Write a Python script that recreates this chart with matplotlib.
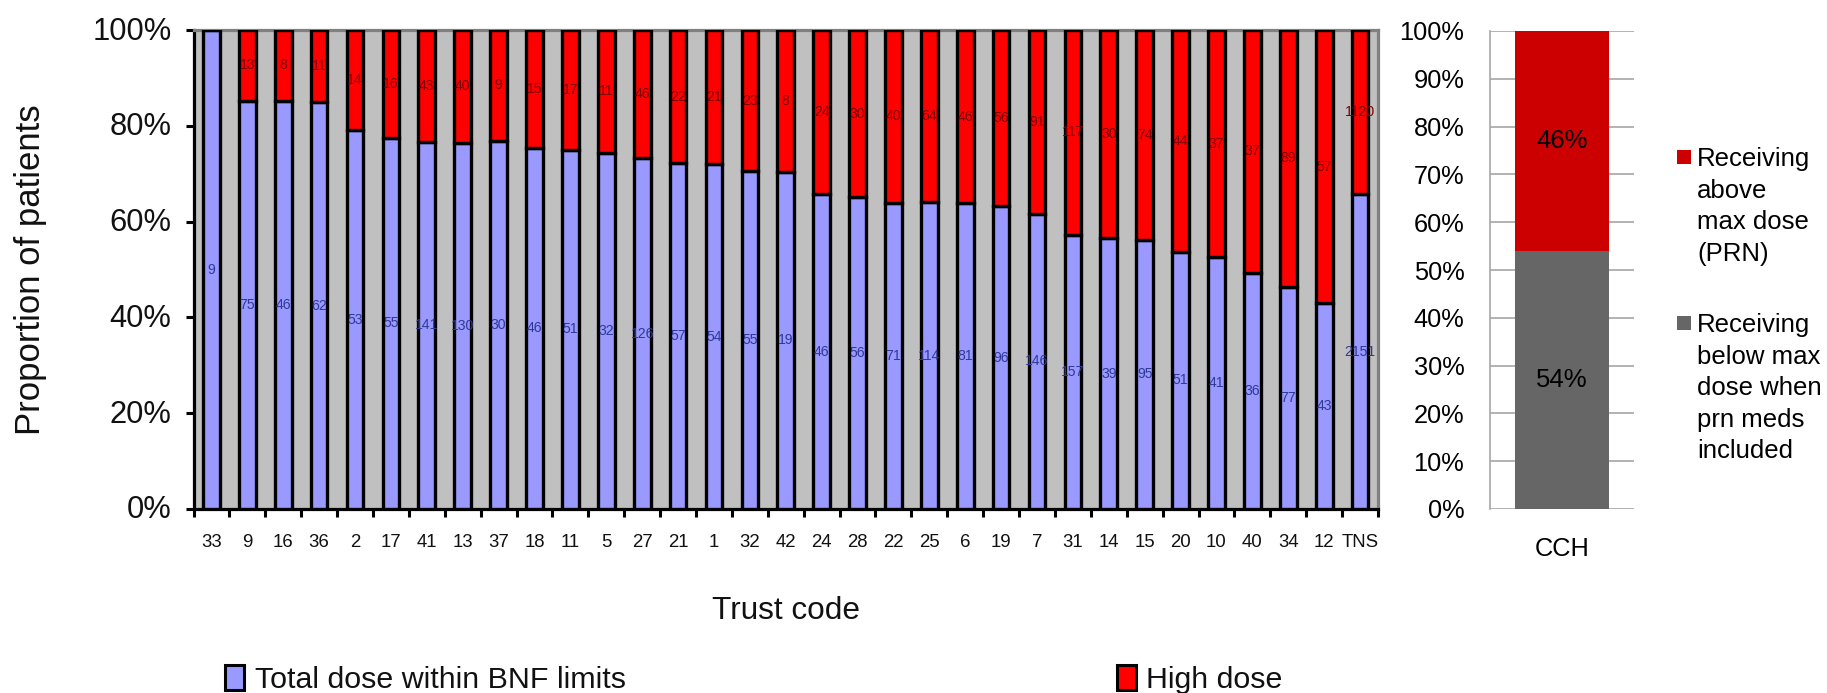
import matplotlib
matplotlib.use("Agg")
import matplotlib.pyplot as plt
import matplotlib.transforms as mtransforms
from matplotlib import font_manager as fm
from matplotlib.patches import Rectangle
import numpy as np

# ---- data -----------------------------------------------------------------
trust_codes = ['33', '9', '16', '36', '2', '17', '41', '13', '37', '18', '11',
               '5', '27', '21', '1', '32', '42', '24', '28', '22', '25', '6',
               '19', '7', '31', '14', '15', '20', '10', '40', '34', '12', 'TNS']
within_bnf = [9, 75, 46, 62, 53, 55, 141, 130, 30, 46, 51,
              32, 126, 57, 54, 55, 19, 46, 56, 71, 114, 81,
              96, 146, 157, 39, 95, 51, 41, 36, 77, 43, 2151]
high_dose = [0, 13, 8, 11, 14, 16, 43, 40, 9, 15, 17,
             11, 46, 22, 21, 23, 8, 24, 30, 40, 64, 46,
             56, 91, 117, 30, 74, 44, 37, 37, 89, 57, 1120]

cch_site = ['CCH']
cch_below_max = [54]
cch_above_max = [46]
y_ticks_main = [0, 20, 40, 60, 80, 100]
y_ticks_cch = [0, 10, 20, 30, 40, 50, 60, 70, 80, 90, 100]


# ---- fonts ----------------------------------------------------------------
def first_available(*names):
    for name in names:
        try:
            fm.findfont(fm.FontProperties(family=name), fallback_to_default=False)
            return name
        except ValueError:
            continue
    return None


narrow = first_available('Liberation Sans Narrow', 'Arial Narrow')
regular = first_available('Liberation Sans', 'Arial') or 'DejaVu Sans'
if narrow is None:
    narrow, nscale = regular, 0.84
else:
    nscale = 1.0

W, H = 1827, 693
fig = plt.figure(figsize=(W / 100, H / 100), dpi=100)
fig.patch.set_facecolor('white')


def fx(px):
    return px / W


def fy(px):
    return 1 - px / H


# ---- main stacked chart ---------------------------------------------------
within = np.array(within_bnf, dtype=float)
high = np.array(high_dose, dtype=float)
total = within + high
pct_within = within / total * 100
pct_high = high / total * 100
n = len(trust_codes)
x = np.arange(n)

ax = fig.add_axes([fx(193.5), fy(509), fx(1378) - fx(193.5), fy(30) - fy(509)])
ax.set_facecolor('#C0C0C0')
ax.bar(x, pct_within, width=0.465, color='#9999FF', edgecolor='black',
       linewidth=2.4, zorder=3)
ax.bar(x, pct_high, bottom=pct_within, width=0.465, color='#FF0000',
       edgecolor='black', linewidth=2.4, zorder=3)
ax.set_xlim(-0.5, n - 0.5)
ax.set_ylim(0, 100)

# counts written in the middle of each segment
for i in range(n):
    ax.text(x[i], pct_within[i] / 2, str(within_bnf[i]), ha='center',
            va='center', fontsize=12 * nscale, family=narrow,
            color='#2E3A95', zorder=4)
    if high_dose[i] > 0:
        ax.text(x[i], pct_within[i] + pct_high[i] / 2, str(high_dose[i]),
                ha='center', va='center', fontsize=12 * nscale,
                family=narrow, color='#7A0000', zorder=4)

for side in ('left', 'bottom'):
    ax.spines[side].set_color('black')
    ax.spines[side].set_linewidth(2.3)
for side in ('top', 'right'):
    ax.spines[side].set_color('#808080')
    ax.spines[side].set_linewidth(2.3)
for sp in ax.spines.values():
    sp.set_zorder(2.5)

ax.set_xticks(x)
ax.set_xticklabels(trust_codes, family=narrow, fontsize=16 * nscale,
                   color='#111111')
ax.set_xticks(np.arange(n + 1) - 0.5, minor=True)
ax.tick_params(axis='x', which='major', length=0, pad=18)
ax.tick_params(axis='x', which='minor', length=5.8, width=2.2,
               direction='out', color='black')
ax.set_yticks(y_ticks_main)
ax.set_yticklabels([f'{v}%' for v in y_ticks_main], family=narrow,
                   fontsize=26.5 * nscale, color='#111111')
ax.tick_params(axis='y', length=5.8, width=2.2, direction='out',
               color='black', pad=10)
shift = mtransforms.ScaledTranslation(0, 2 / 100, fig.dpi_scale_trans)
for lbl in ax.get_yticklabels():
    lbl.set_transform(lbl.get_transform() + shift)

ax.set_ylabel('Proportion of patients', family=regular, fontsize=25,
              color='#111111', va='center')
ax.yaxis.set_label_coords((30.5 - 193.5) / (1378 - 193.5), 0.5)
ax.set_xlabel('Trust code', family=narrow, fontsize=27 * nscale,
              color='#111111', va='top')
ax.xaxis.set_label_coords(0.5, (509 - 596) / (509 - 30))

# legend of the main chart, across the bottom
legend_items = [('Total dose within BNF limits', '#9999FF', 225, 255),
                ('High dose', '#FF0000', 1117, 1146)]
for label, colour, box_x, text_x in legend_items:
    fig.patches.append(Rectangle((fx(box_x), fy(690)), fx(19), fy(665) - fy(690),
                                 transform=fig.transFigure, facecolor=colour,
                                 edgecolor='black', linewidth=2.2))
    fig.text(fx(text_x), fy(688), label, family=narrow,
             fontsize=26 * nscale, color='#111111', va='baseline', ha='left')

# ---- CCH chart ------------------------------------------------------------
ax2 = fig.add_axes([fx(1490), fy(509), fx(1634) - fx(1490), fy(31) - fy(509)])
ax2.set_axisbelow(True)
xc = np.arange(len(cch_site))
ax2.bar(xc, cch_below_max, width=0.653, color='#666666', zorder=2)
ax2.bar(xc, cch_above_max, bottom=cch_below_max, width=0.653,
        color='#CC0000', zorder=2)
ax2.set_xlim(-0.5, 0.5)
ax2.set_ylim(0, 100)
ax2.text(xc[0], cch_below_max[0] / 2, f'{cch_below_max[0]}%', ha='center',
         va='center', family=regular, fontsize=18.5, color='black', zorder=3)
ax2.text(xc[0], cch_below_max[0] + cch_above_max[0] / 2,
         f'{cch_above_max[0]}%', ha='center', va='center', family=regular,
         fontsize=18.5, color='black', zorder=3)
ax2.set_yticks(y_ticks_cch)
ax2.set_yticklabels([f'{v}%' for v in y_ticks_cch], family=regular,
                    fontsize=18.3, color='black')
ax2.set_xticks(xc)
ax2.set_xticklabels(cch_site, family=regular, fontsize=18.3, color='black')
ax2.tick_params(axis='y', length=0, pad=18.5)
ax2.tick_params(axis='x', length=0, pad=20)
ax2.yaxis.grid(True, color='#A6A6A6', linewidth=1.2)
for side in ('top', 'right', 'bottom'):
    ax2.spines[side].set_visible(False)
ax2.spines['left'].set_color('#A6A6A6')
ax2.spines['left'].set_linewidth(1.2)

# legend of the CCH chart
cch_legend = [('Receiving\nabove\nmax dose\n(PRN)', '#CC0000', 147),
              ('Receiving\nbelow max\ndose when\nprn meds\nincluded', '#666666', 313)]
for label, colour, top in cch_legend:
    fig.patches.append(Rectangle((fx(1677), fy(top + 17)), fx(14), fy(top + 3) - fy(top + 17),
                                 transform=fig.transFigure, facecolor=colour,
                                 edgecolor='none'))
    fig.text(fx(1697), fy(top), label, family=regular, fontsize=18.5,
             color='black', va='top', ha='left', linespacing=1.4)

fig.savefig('out.png', dpi=100, facecolor='white')
